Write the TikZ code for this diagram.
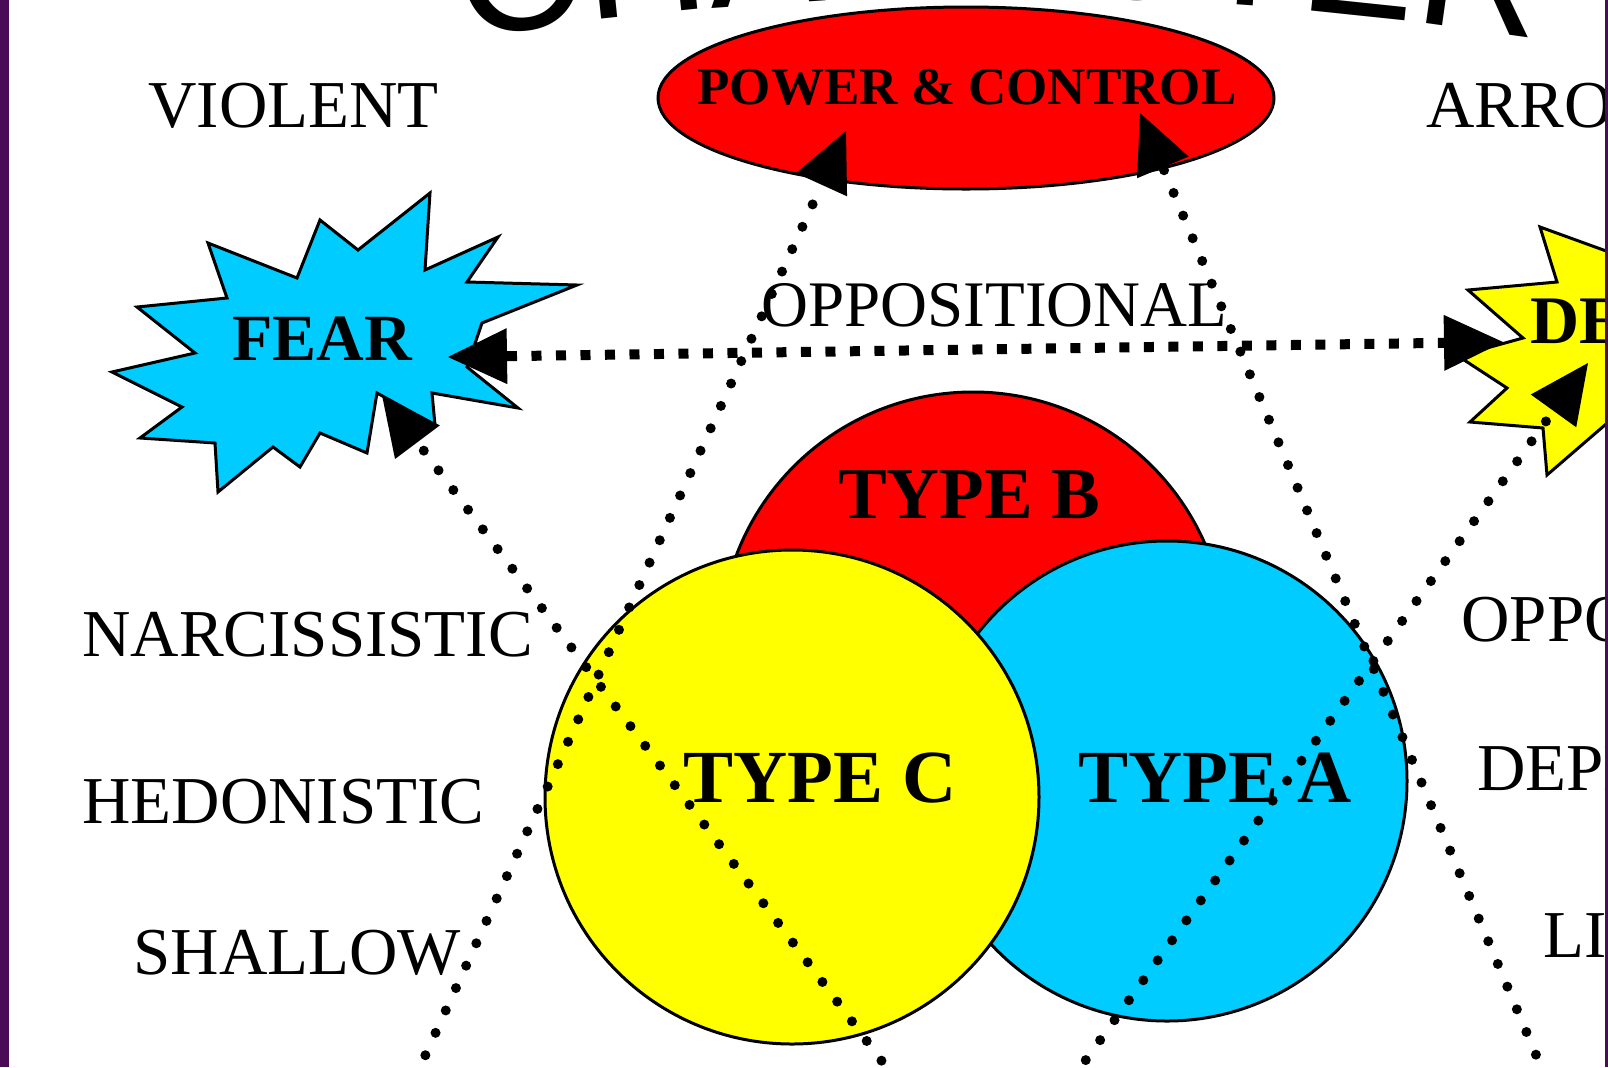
\documentclass[tikz,border=0pt]{standalone}
\usepackage{fontspec}
\setmainfont{Liberation Serif}
\newfontfamily\titlefont{Liberation Sans}
\usetikzlibrary{arrows.meta,decorations.text,shapes.geometric}

\definecolor{frame}{RGB}{74,12,84}
\definecolor{sky}{RGB}{0,204,255}
\definecolor{sun}{RGB}{255,255,0}
\definecolor{fire}{RGB}{255,0,0}

\tikzset{
  blob/.style={draw=black, line width=1.5pt, line join=miter},
  word/.style={inner sep=0pt, anchor=base west, font=\fontsize{33.5}{36}\selectfont},
  heavy/.style={inner sep=0pt, anchor=base, font=\bfseries\fontsize{#1}{#1}\selectfont},
  bigtip/.tip={Triangle[length=29.5pt, width=28pt, line width=0pt]},
  dotline/.style={line width=5pt, line cap=round, dash pattern=on 0pt off 12.3pt, -bigtip},
  squareline/.style={line width=5pt, dash pattern=on 5pt off 7.25pt, bigtip-bigtip},
}

\begin{document}
\begin{tikzpicture}[x=0.5pt, y=-0.5pt]
  \useasboundingbox (0,0) rectangle (1608,1067);
  \clip (0,0) rectangle (1608,1067);
  \fill[white] (0,0) rectangle (1608,1067);

  % arched title, mostly above the top edge
  \path[decorate, decoration={text along path, text align=center,
      text={|\titlefont\fontsize{86.5}{90}\selectfont|CHARACTER}}]
    (1000,3396.5) ++(-100:3400) arc[start angle=-100, end angle=-80, radius=3400];

  % power & control
  \node[ellipse, fill=fire, blob, minimum width=308pt, minimum height=91pt, inner sep=0pt] (pc) at (966,98) {};
  \node[heavy=26.5] (pctext) at (967,104) {POWER \& CONTROL};

  % fear burst
  \filldraw[fill=sky, blob]
    (430,193) -- (425,270) -- (498,237) -- (467,282) -- (577,285) -- (482,323)
    -- (467,367) -- (518,408) -- (432,393) -- (435,425) -- (377,393) -- (367,453)
    -- (320,433) -- (300,467) -- (273,447) -- (218,492) -- (215,443) -- (140,438)
    -- (182,407) -- (112,372) -- (195,353) -- (137,307) -- (227,298) -- (208,243)
    -- (297,278) -- (320,220) -- (358,250) -- cycle;
  \node[heavy=33] (fear) at (322,360) {FEAR};

  % denial burst at the right edge
  \filldraw[fill=sun, blob]
    (1540,227) -- (1557,282) -- (1468,290) -- (1523,338) -- (1458,356) -- (1507,388)
    -- (1470,422) -- (1543,428) -- (1547,475) -- (1620,412) -- (1640,412)
    -- (1640,240) -- (1620,256) -- cycle;
  \node[heavy=34, anchor=base west] (denial) at (1530,343) {DENIAL};

  % the three types
  \node[circle, fill=fire, blob, minimum size=253pt, inner sep=0pt] (typeb) at (973,645) {};
  \node[circle, fill=sky, blob, minimum size=240pt, inner sep=0pt] (typea) at (1167,781) {};
  \node[circle, fill=sun, blob, minimum size=247pt, inner sep=0pt] (typec) at (792,797) {};
  \node[heavy=36.5] (tb) at (969,518) {TYPE B};
  \node[heavy=37.5] (tc) at (820,802) {TYPE C};
  \node[heavy=37.5] (ta) at (1215,802) {TYPE A};

  % traits
  \node[word] (violent) at (148,127) {VIOLENT};
  \node[word] (arrogant) at (1426,127) {ARROGANT};
  \node[word, font=\fontsize{32.5}{35}\selectfont] (opp) at (761,326) {OPPOSITIONAL};
  \node[word] (narc) at (82,656) {NARCISSISTIC};
  \node[word] (hedo) at (82,823) {HEDONISTIC};
  \node[word] (shallow) at (133,974) {SHALLOW};
  \node[word] (oppr) at (1461,641) {OPPORTUNISTIC};
  \node[word] (dep) at (1477,790) {DEPENDENT};
  \node[word] (liar) at (1543,957) {LIAR};

  % arrow ends
  \coordinate (pcL) at (846,131);
  \coordinate (pcR) at (1140,113);
  \coordinate (fearT) at (382,395);
  \coordinate (fearH) at (448,357);
  \coordinate (denH) at (1503,342);
  \coordinate (denT) at (1588,363);
  \coordinate (s1) at (405,1100);
  \coordinate (s2) at (1555,1100);
  \coordinate (s3) at (911,1100);
  \coordinate (s4) at (1057,1100);

  % connectors
  \draw[squareline] (fearH) -- (denH);
  \draw[dotline] (s1) -- (pcL);
  \draw[dotline] (s2) -- (pcR);
  \draw[dotline] (s3) -- (fearT);
  \draw[dotline] (s4) -- (denT);

  % side bars
  \fill[frame] (0,0) rectangle (8.5,1067);
  \fill[frame] (1605,0) rectangle (1608,1067);
\end{tikzpicture}
\end{document}
